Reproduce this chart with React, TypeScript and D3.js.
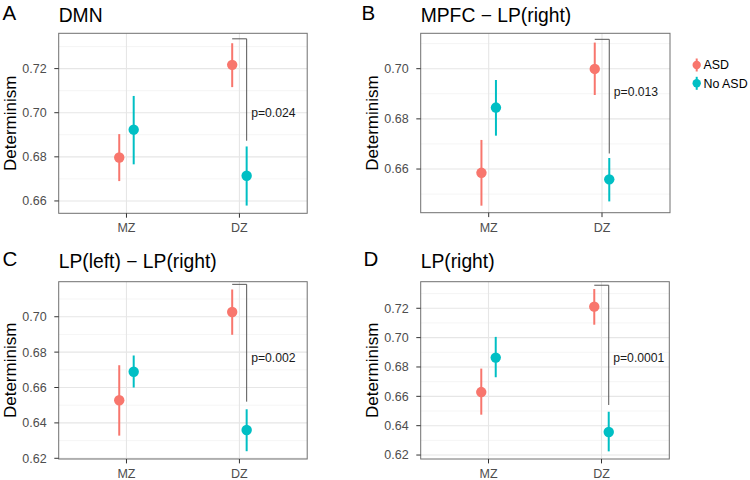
import React from "react";
import * as d3 from "d3";

const groups = ["MZ", "DZ"];
const seriesNames = ["ASD", "No ASD"];
const seriesColors = ["#F8766D", "#00BFC4"];
const panelLetters = ["A", "B", "C", "D"];
const panelTitles = ["DMN", "MPFC \u2212 LP(right)", "LP(left) \u2212 LP(right)", "LP(right)"];

// per panel, [MZ, DZ]
const asdMean = [[0.6797, 0.7217], [0.6585, 0.6999], [0.6528, 0.7027], [0.6629, 0.7211]];
const asdLow = [[0.669, 0.7116], [0.6454, 0.6895], [0.6328, 0.6898], [0.6475, 0.7088]];
const asdHigh = [[0.6903, 0.7315], [0.6716, 0.7104], [0.6726, 0.7154], [0.6789, 0.7331]];
const noAsdMean = [[0.6923, 0.6714], [0.6845, 0.6559], [0.6689, 0.636], [0.6864, 0.6357]];
const noAsdLow = [[0.6766, 0.6579], [0.6733, 0.6471], [0.66, 0.624], [0.673, 0.6225]];
const noAsdHigh = [[0.7076, 0.6847], [0.6955, 0.6644], [0.6781, 0.6477], [0.7005, 0.6495]];

const yDomains = [[0.6544, 0.736], [0.6426, 0.7141], [0.6196, 0.7198], [0.6173, 0.7381]];
const yTicks = [
  [0.66, 0.68, 0.7, 0.72],
  [0.66, 0.68, 0.7],
  [0.62, 0.64, 0.66, 0.68, 0.7],
  [0.62, 0.64, 0.66, 0.68, 0.7, 0.72],
];
const pLabels = ["p=0.024", "p=0.013", "p=0.002", "p=0.0001"];
const bracketTop = [0.7335, 0.7117, 0.7183, 0.7357];
const bracketBottom = [0.6873, 0.6662, 0.652, 0.6541];
const pLabelY = [0.7, 0.6909, 0.677, 0.6861];

const FONT = "'Liberation Sans', Arial, Helvetica, sans-serif";

const panelBoxes = [
  { left: 58.7, top: 33.3, width: 248.5, height: 180, lx: 2.5, ly: 20.3, ty: 21.7 },
  { left: 420.7, top: 33.3, width: 249.3, height: 179.4, lx: 361.5, ly: 20.3, ty: 21.7 },
  { left: 58.7, top: 281.7, width: 248.5, height: 177.3, lx: 2.5, ly: 266, ty: 268.3 },
  { left: 420.7, top: 281.7, width: 248.6, height: 177.3, lx: 363.5, ly: 266, ty: 268.3 },
];

const DODGE = 0.064;

function Panel({ i }: { i: number }) {
  const b = panelBoxes[i];
  const x = d3.scaleLinear().domain([0.4, 2.6]).range([b.left, b.left + b.width]);
  const y = d3.scaleLinear().domain(yDomains[i]).range([b.top + b.height, b.top]);
  const [d0, d1] = yDomains[i];
  const majors = yTicks[i];
  const minorSet: number[] = [];
  majors.forEach((t) => {
    [t - 0.01, t + 0.01].forEach((m) => {
      const v = Math.round(m * 1000) / 1000;
      if (v > d0 && v < d1 && !minorSet.includes(v) && !majors.includes(v)) minorSet.push(v);
    });
  });
  const series = [
    { mean: asdMean[i], lo: asdLow[i], hi: asdHigh[i], off: -DODGE, color: seriesColors[0] },
    { mean: noAsdMean[i], lo: noAsdLow[i], hi: noAsdHigh[i], off: DODGE, color: seriesColors[1] },
  ];
  const bx0 = x(2 - DODGE);
  const bx1 = x(2 + DODGE);
  const fmt = d3.format(".2f");
  return (
    <g>
      <rect x={b.left} y={b.top} width={b.width} height={b.height} fill="#fff" />
      {minorSet.map((v) => (
        <line key={"mi" + v} x1={b.left} x2={b.left + b.width} y1={y(v)} y2={y(v)} stroke="#f2f2f2" strokeWidth={0.8} />
      ))}
      {majors.map((v) => (
        <line key={"ma" + v} x1={b.left} x2={b.left + b.width} y1={y(v)} y2={y(v)} stroke="#e6e6e6" strokeWidth={1.1} />
      ))}
      {groups.map((g, gi) => (
        <line key={"vx" + g} x1={x(gi + 1)} x2={x(gi + 1)} y1={b.top} y2={b.top + b.height} stroke="#e6e6e6" strokeWidth={1.1} />
      ))}
      {series.map((s, si) =>
        groups.map((g, gi) => {
          const cx = x(gi + 1 + s.off);
          return (
            <g key={si + g}>
              <line x1={cx} x2={cx} y1={y(s.lo[gi])} y2={y(s.hi[gi])} stroke={s.color} strokeWidth={2} />
              <circle cx={cx} cy={y(s.mean[gi])} r={5.2} fill={s.color} />
            </g>
          );
        })
      )}
      <path
        d={`M${bx0},${y(bracketTop[i])}H${bx1}V${y(bracketBottom[i])}`}
        fill="none"
        stroke="#555"
        strokeWidth={1}
      />
      <text x={bx1 + 4.5} y={y(pLabelY[i]) + 4.3} fontSize={12.2} fill="#1a1a1a" fontFamily={FONT}>
        {pLabels[i]}
      </text>
      <rect x={b.left} y={b.top} width={b.width} height={b.height} fill="none" stroke="#707070" strokeWidth={1} />
      {majors.map((v) => (
        <g key={"yt" + v}>
          <line x1={b.left - 4.4} x2={b.left} y1={y(v)} y2={y(v)} stroke="#333" strokeWidth={1} />
          <text x={b.left - 12} y={y(v) + 4.4} textAnchor="end" fontSize={12.5} fill="#4d4d4d" fontFamily={FONT}>
            {fmt(v)}
          </text>
        </g>
      ))}
      {groups.map((g, gi) => (
        <g key={"xt" + g}>
          <line x1={x(gi + 1)} x2={x(gi + 1)} y1={b.top + b.height} y2={b.top + b.height + 4.4} stroke="#333" strokeWidth={1} />
          <text x={x(gi + 1)} y={b.top + b.height + 19} textAnchor="middle" fontSize={12.5} fill="#4d4d4d" fontFamily={FONT}>
            {g}
          </text>
        </g>
      ))}
      <text
        transform={`translate(${b.left - 43},${b.top + b.height / 2}) rotate(-90)`}
        textAnchor="middle"
        fontSize={17}
        fill="#000"
        fontFamily={FONT}
      >
        Determinism
      </text>
      <text x={b.lx} y={b.ly} fontSize={20.5} fill="#000" fontFamily={FONT}>
        {panelLetters[i]}
      </text>
      <text x={b.left} y={b.ty} fontSize={19.3} fill="#000" fontFamily={FONT}>
        {panelTitles[i]}
      </text>
    </g>
  );
}

function Legend() {
  const lx = 696.7;
  const ys = [65, 83.3];
  return (
    <g>
      {seriesNames.map((n, k) => (
        <g key={n}>
          <line x1={lx} x2={lx} y1={ys[k] - 6.5} y2={ys[k] + 6.5} stroke={seriesColors[k]} strokeWidth={2} />
          <circle cx={lx} cy={ys[k]} r={4.2} fill={seriesColors[k]} />
          <text x={lx + 6.8} y={ys[k] + 4.4} fontSize={12.4} fill="#000" fontFamily={FONT}>
            {n}
          </text>
        </g>
      ))}
    </g>
  );
}

export default function App() {
  return (
    <svg
      width={750}
      height={480}
      viewBox="0 0 750 480"
      style={{ position: "absolute", left: 0, top: 0, background: "#fff" }}
    >
      <rect x={0} y={0} width={750} height={480} fill="#fff" />
      {[0, 1, 2, 3].map((i) => (
        <Panel key={i} i={i} />
      ))}
      <Legend />
    </svg>
  );
}
